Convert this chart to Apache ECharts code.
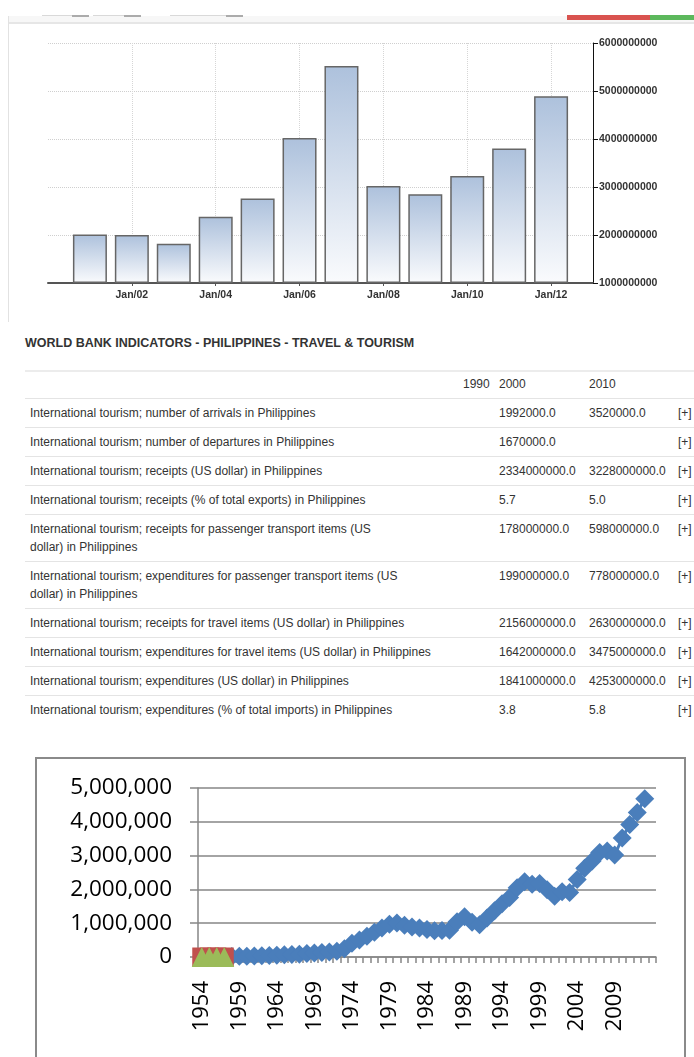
<!DOCTYPE html>
<html>
<head>
<meta charset="utf-8">
<title>Philippines - Travel &amp; Tourism</title>
<script src="https://cdn.jsdelivr.net/npm/echarts@6/dist/echarts.min.js"></script>
<style>
    html, body { margin: 0; padding: 0; background: #fff; }
    body { width: 694px; height: 1057px; position: relative; overflow: hidden;
           font-family: "Liberation Sans", Arial, sans-serif; color: #333; }
    .abs { position: absolute; }
    #topband { left: 8px; top: 16px; width: 686px; height: 6px; background: #f7f7f7; border-bottom: 2px solid #e6e6e6; }
    #leftrule { left: 8px; top: 16px; width: 1px; height: 306px; background: #e2e2e2; }
    .tab { top: 15px; height: 1px; background: #d9d9d9; }
    .tab i { position: absolute; right: 0; top: 0; width: 17px; height: 2px; background: #ababab; }
    #flagRed { left: 567px; top: 15px; width: 83px; height: 5px; background: #d9534f; }
    #flagGreen { left: 650px; top: 15px; width: 44px; height: 5px; background: #5cb85c; }
    #receipts { left: 0; top: 0; width: 694px; height: 320px; }
    #wbTitle { left: 25px; top: 335px; font-size: 12.5px; line-height: 16px; font-weight: bold; color: #333; white-space: nowrap; }
    #wb { position: absolute; left: 25px; top: 370px; width: 669px; table-layout: fixed;
          border-collapse: separate; border-spacing: 0; font-size: 12px; color: #333; }
    #wb td { padding: 5px 0 5px 5px; line-height: 18px; border-top: 1px solid #e4e4e4;
             vertical-align: top; white-space: pre; overflow: visible; }
    #wb thead td { padding: 3px 0 5px 5px; border-top: 2px solid #ececec; }
    #arrivalsBox { left: 35px; top: 757px; width: 647px; height: 400px; border: 2px solid #8a8a8a; }
    #arrivals { left: 0; top: 730px; width: 694px; height: 327px; }
</style>
</head>
<body>
<div id="topband" class="abs"></div>
<div id="leftrule" class="abs"></div>
<div class="abs tab" style="left:42px;width:47px"><i></i></div>
<div class="abs tab" style="left:93px;width:48px"><i></i></div>
<div class="abs tab" style="left:170px;width:73px"><i></i></div>
<div id="flagRed" class="abs"></div>
<div id="flagGreen" class="abs"></div>
<div id="receipts" class="abs"></div>

<div id="wbTitle" class="abs">WORLD BANK INDICATORS - PHILIPPINES - TRAVEL &amp; TOURISM</div>
<table id="wb">
    <colgroup>
        <col style="width:433px"><col style="width:36px"><col style="width:90px"><col style="width:89px"><col style="width:21px">
    </colgroup>
    <thead><tr><td></td><td>1990</td><td>2000</td><td>2010</td><td></td></tr></thead>
    <tbody id="wbBody"></tbody>
</table>

<div id="arrivalsBox" class="abs"></div>
<div id="arrivals" class="abs"></div>

<script>
    // ---- top chart: tourism receipts (US$), one bar per January ----
    var receiptYears = ['2000', '2001', '2002', '2003', '2004', '2005', '2006',
                        '2007', '2008', '2009', '2010', '2011', '2012', '2013'];
    var receiptValues = ['-', 2010000000, 2000000000, 1820000000, 2380000000, 2760000000, 4020000000,
                         5520000000, 3020000000, 2850000000, 3230000000, 3800000000, 4890000000, '-'];
    var receiptRange = [1000000000, 6000000000, 1000000000]; // min, max, step

    // ---- world bank table ----
    var wbIndicators = [
        'International tourism; number of arrivals in Philippines',
        'International tourism; number of departures in Philippines',
        'International tourism; receipts (US dollar) in Philippines',
        'International tourism; receipts (% of total exports) in Philippines',
        'International tourism; receipts for passenger transport items (US\ndollar) in Philippines',
        'International tourism; expenditures for passenger transport items (US\ndollar) in Philippines',
        'International tourism; receipts for travel items (US dollar) in Philippines',
        'International tourism; expenditures for travel items (US dollar) in Philippines',
        'International tourism; expenditures (US dollar) in Philippines',
        'International tourism; expenditures (% of total imports) in Philippines'
    ];
    var wb1990 = ['', '', '', '', '', '', '', '', '', ''];
    var wb2000 = ['1992000.0', '1670000.0', '2334000000.0', '5.7', '178000000.0',
                  '199000000.0', '2156000000.0', '1642000000.0', '1841000000.0', '3.8'];
    var wb2010 = ['3520000.0', '', '3228000000.0', '5.0', '598000000.0',
                  '778000000.0', '2630000000.0', '3475000000.0', '4253000000.0', '5.8'];

    // ---- bottom chart: international arrivals ----
    var arrivalYears = [];
    for (var y = 1954; y <= 2014; y++) { arrivalYears.push(String(y)); }
    var arrivalsMain = ['-', '-', '-', '-',
        15000, 20000, 25000, 30000, 38000, 45000, 55000, 65000, 75000, 85000,
        100000, 115000, 130000, 150000, 170000, 243000, 410000, 502000, 615000, 730000,
        859000, 966000, 1008000, 939000, 891000, 861000, 817000, 773000, 782000, 795000,
        1043000, 1190000, 1025000, 951000, 1153000, 1372000, 1574000, 1760000, 2049000, 2223000,
        2149000, 2171000, 1992000, 1797000, 1933000, 1907000, 2291000, 2623000, 2843000, 3092000,
        3139000, 3017000, 3520000, 3917000, 4273000, 4681000];
    var arrivalsSeries2 = [0, 0, 0, 0];
    var arrivalsSeries3 = [0, 0, 0, 0];
    var arrivalRange = [0, 5000000, 1000000];

    // fill the table
    var body = document.getElementById('wbBody');
    wbIndicators.forEach(function (name, i) {
        var tr = document.createElement('tr');
        [name, wb1990[i], wb2000[i], wb2010[i], '[+]'].forEach(function (t) {
            var td = document.createElement('td');
            td.textContent = t;
            tr.appendChild(td);
        });
        body.appendChild(tr);
    });

    var labelFont = { color: '#333', fontFamily: 'Liberation Sans', fontWeight: 'bold', fontSize: 10.5 };
    var showEven = function (idx, val) {
        return idx > 0 && idx < receiptYears.length - 1 && Number(val) % 2 === 0;
    };

    var receiptsChart = echarts.init(document.getElementById('receipts'));
    receiptsChart.setOption({
        animation: false,
        grid: { left: 48, right: 101, top: 43, bottom: 37, outerBoundsMode: 'none' },
        xAxis: {
            type: 'category',
            data: receiptYears,
            boundaryGap: false,
            axisLine: { lineStyle: { color: '#555', width: 2 } },
            axisTick: { show: true, interval: showEven, length: 3, lineStyle: { color: '#555' } },
            axisLabel: Object.assign({
                interval: showEven,
                margin: 7,
                formatter: function (v) { return 'Jan/' + v.slice(2); }
            }, labelFont),
            splitLine: { show: true, interval: showEven, lineStyle: { color: '#d6d6d6', type: 'dotted' } }
        },
        yAxis: {
            type: 'value',
            position: 'right',
            min: receiptRange[0],
            max: receiptRange[1],
            interval: receiptRange[2],
            startValue: receiptRange[0],
            axisLine: { show: true, lineStyle: { color: '#111', width: 1 } },
            axisTick: { show: true, length: 5, lineStyle: { color: '#111' } },
            axisLabel: Object.assign({
                margin: 6,
                formatter: function (v) { return String(v); }
            }, labelFont),
            splitLine: { show: true, lineStyle: { color: '#cfcfcf', type: 'dotted' } }
        },
        series: [{
            type: 'bar',
            data: receiptValues,
            barWidth: 34,
            itemStyle: {
                color: new echarts.graphic.LinearGradient(0, 0, 0, 1, [
                    { offset: 0, color: '#adc1dc' },
                    { offset: 1, color: '#fafbfd' }
                ]),
                borderColor: '#666',
                borderWidth: 1.5
            }
        }]
    });

    var bigFont = { color: '#000', fontFamily: 'Open Sans', fontSize: 22.5 };
    var everyFifth = function (idx) {
        return idx % 5 === 0 && idx < arrivalYears.length - 1;
    };
    var arrivalsChart = echarts.init(document.getElementById('arrivals'));
    arrivalsChart.setOption({
        animation: false,
        grid: { left: 198, right: 38, top: 58, bottom: 100, outerBoundsMode: 'none' },
        xAxis: {
            type: 'category',
            data: arrivalYears,
            axisLine: { lineStyle: { color: '#868686', width: 1.5 } },
            axisTick: { show: true, interval: 0, length: 6, lineStyle: { color: '#868686', width: 1.5 } },
            axisLabel: Object.assign({ interval: everyFifth, rotate: 90, margin: 24 }, bigFont, { fontSize: 22 }),
            splitLine: { show: false }
        },
        yAxis: {
            type: 'value',
            min: arrivalRange[0],
            max: arrivalRange[1],
            interval: arrivalRange[2],
            axisLine: { show: true, lineStyle: { color: '#868686', width: 1.5 } },
            axisTick: { show: true, inside: false, length: 8, lineStyle: { color: '#868686', width: 1.5 } },
            axisLabel: Object.assign({
                margin: 26,
                formatter: function (v) { return v.toLocaleString('en-US'); }
            }, bigFont),
            splitLine: { show: true, lineStyle: { color: '#868686', width: 1.5 } }
        },
        series: [
            {
                type: 'line', data: arrivalsMain, symbol: 'diamond', symbolSize: 19, showAllSymbol: true,
                itemStyle: { color: '#4a7ebb' }, lineStyle: { color: '#4a7ebb', width: 3 }
            },
            {
                type: 'line', data: arrivalsSeries2, symbol: 'rect', symbolSize: 19, showAllSymbol: true,
                itemStyle: { color: '#c0504d' }, lineStyle: { color: '#c0504d', width: 3 }
            },
            {
                type: 'line', data: arrivalsSeries3, symbol: 'triangle', symbolSize: 20, showAllSymbol: true,
                itemStyle: { color: '#9bbb59' }, lineStyle: { color: '#9bbb59', width: 3 }
            }
        ]
    });
</script>
</body>
</html>
